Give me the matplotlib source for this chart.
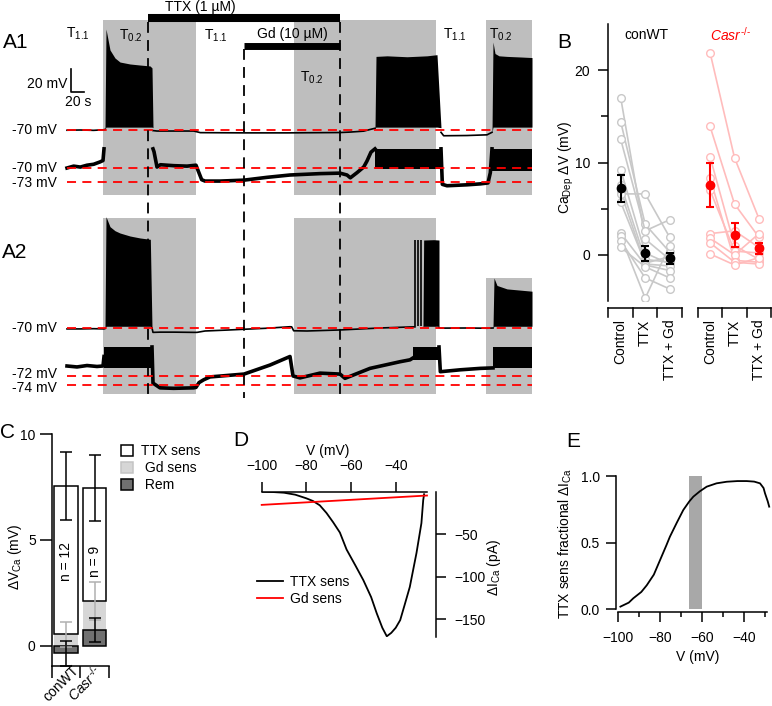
import numpy as np
import matplotlib
matplotlib.use("Agg")
import matplotlib.pyplot as plt
from matplotlib.patches import Rectangle, Patch
from matplotlib.lines import Line2D
from matplotlib.transforms import blended_transform_factory

nan = np.nan

# ---------------- data ----------------
# Panel A: protocol (time in s)
grey_periods = [(54, 194), (340, 554), (628, 698)]
ttx_period = (122, 410)
gd_period = (266, 410)
temp_labels = ["1.1", "0.2", "1.1", "0.2", "1.1", "0.2"]
temp_label_t = [16.5, 96, 223.5, 367.5, 582, 651]
temp_label_y = [34, 36, 36, 78, 35, 35]

# A1 full-scale trace (mV)
a1_t = [0, 20, 40, 55, 57, nan, 129, 135, 190, 200, 265, 330, 410, 425, 445, 455, 462,
        nan, 561, 565, 600, 630, 637.5]
a1_v = [-70.2, -70.0, -70.3, -69.8, -69.5, nan, -70.5, -70.9, -70.9, -72.3, -72.5, -72.5,
        -72.2, -71.8, -71.0, -69.5, -68.5, nan, -72.0, -75.0, -74.8, -74.2, -72.0]
a1_burst_t = [[57, 58.5, 64.5, 72, 79.5, 94.5, 109.5, 124.5, 127.5, 129],
              [462, 463.5, 480, 510, 540, 555, 561],
              [637.5, 639, 642, 648, 660, 680, 697.5]]
a1_burst_v = [[-69.5, 17.8, -0.4, -7.4, -10.9, -12.6, -13.5, -14.3, -16.0, -68.0],
              [-68.0, -6.0, -5.5, -6.3, -5.5, -4.5, -68.0],
              [-72.0, 6.5, -3.5, -5.5, -6.0, -6.5, -7.0]]
a1_trough = -67.5

# A1 high-gain trace (mV)
a1z_t = [0, 10, 20, 30, 40, 49.5, 54, 55.5, nan, 129, 130.5, 135, 140, 160, 180, 193.5,
         196.5, 202, 207, 230, 265.5, 300, 334.5, 380, 409.5, 420, 425, 435, 445, 450,
         456, 462, nan, 561, 563, 570, 600, 620, 631.5, 635, 637.5]
a1z_v = [-70.0, -69.6, -69.8, -69.4, -69.2, -68.7, -68.4, -65.9, nan, -65.9, -66.5, -69.8,
         -69.3, -69.5, -69.6, -69.4, -70.5, -72.5, -72.8, -72.8, -72.6, -72.0, -71.5, -71.2,
         -71.1, -71.5, -72.1, -71.0, -69.8, -68.5, -66.6, -65.9, nan, -65.9, -73.5, -73.8,
         -73.6, -73.4, -73.2, -71.0, -65.9]
a1z_blocks = [(462, 561), (637.5, 697.5)]
a1z_block_trough = [-70.3, -70.6]

# A2 full-scale trace (mV)
a2_t = [0, 20, 40, 55.5, 57, nan, 127.5, 129, 140, 160, 190, 195, 207, 240, 265.5, 300,
        334.5, 337, 340, 360, 409.5, 469.5, 514.5, 522, nan, 558, 560, 600, 630, 639]
a2_v = [-70.8, -70.8, -70.6, -70.8, -70.5, nan, -70.0, -73.8, -73.6, -73.6, -73.8, -73.8,
        -72.6, -71.8, -71.1, -70.2, -68.9, -69.0, -72.4, -72.6, -71.7, -70.0, -69.1, -69.0,
        nan, -69.5, -70.1, -70.0, -70.2, -70.0]
a2_burst_t = [[57, 58.5, 64.5, 72, 79.5, 94.5, 109.5, 125, 127.5],
              [534, 535, 550, 558],
              [639, 640.5, 645, 660, 697.5]]
a2_burst_v = [[-70.5, 26.8, 18.1, 14.6, 12.6, 10.0, 8.3, 7.1, -70.0],
              [-69.0, 6.5, 6.8, 6.5],
              [-70.0, -26.5, -33.0, -36.0, -38.0]]
a2_spike_t = [522, 526.5, 531]
a2_spike_peak = 6.5
a2_trough = -68.5

# A2 high-gain trace (mV)
a2z_t = [0, 15, 30, 45, 54, 55.5, nan, 127.5, 129, 139.5, 160, 190, 193.5, 198, 205, 214.5,
         265.5, 304.5, 334.5, 339, 349.5, 379.5, 409.5, 417, 454.5, 499.5, 514.5, 519, nan,
         558, 560, 590, 620, 639]
a2z_v = [-70.0, -70.2, -69.9, -70.1, -70.0, -68.0, nan, -66.0, -73.6, -74.6, -74.7, -74.6,
         -74.5, -73.5, -72.9, -72.3, -71.7, -69.8, -68.0, -72.1, -72.5, -71.5, -71.7, -72.6,
         -70.5, -69.1, -68.7, -68.3, nan, -66.0, -71.2, -70.8, -70.5, -70.4]
a2z_blocks = [(56, 127.5), (519, 558), (639, 697.5)]
a2z_block_trough = [-70.5, -68.7, -70.5]
zoom_clip = -65.9

# Panel B: Ca-dependent depolarisation (mV)
b_conditions = ["Control", "TTX", "TTX + Gd"]
wt_ctrl = [17.0, 14.4, 12.5, 9.2, 7.6, 6.8, 6.6, 5.7, 2.35, 2.0, 1.5, 0.8]
wt_ttx = [1.7, 3.3, 2.6, 0.2, -0.5, -1.0, 6.6, -0.9, -1.1, -4.7, -2.5, -1.3]
wt_gd = [-0.5, 0.3, 3.8, -1.0, -0.8, -1.2, 1.9, -0.2, -1.7, 1.0, -3.7, -2.5]
ko_ctrl = [21.9, 13.9, 10.6, 8.3, 7.0, 2.3, 1.8, 1.3, 0.1]
ko_ttx = [10.5, 5.5, 1.0, -0.6, 0.4, 2.6, 0.0, -0.8, -1.1]
ko_gd = [3.9, 1.9, -0.5, -0.8, 0.2, 0.8, 2.3, -1.0, -0.3]
wt_mean = [7.2, 0.15, -0.36]
wt_sem = [1.45, 0.85, 0.6]
ko_mean = [7.55, 2.13, 0.72]
ko_sem = [2.4, 1.27, 0.6]

# Panel C: stacked components (mV)
c_rem = [-0.36, 0.74]
c_gd = [0.54, 1.39]
c_ttx = [7.01, 5.32]
c_total_sem = [1.6, 1.55]
c_gd_sem = [0.58, 0.9]
c_rem_sem = [0.6, 0.56]
c_n = [12, 9]

# Panel D: I-V of sensitive currents
d_v = [-100, -95, -90, -85, -80, -77, -74, -71, -68, -65, -62, -58, -54.5, -51, -48.5, -46,
       -44, -42, -40, -38, -36, -33.7, -30.7, -28.5, -27.7, -27.3]
d_ttx = [0.0, -0.4, -1.2, -3.5, -7.8, -11, -16, -25, -36, -48, -68, -87, -104, -124, -143,
         -160, -170, -166, -160, -151, -133, -112, -72, -37, -10, -3]
d_gd_v = [-100, -26]
d_gd = [-15.5, -4.5]

# Panel E: fractional TTX-sensitive current
e_v = [-99, -95, -92.8, -89, -86.4, -83, -80, -77, -75.3, -72, -68.9, -66, -64.1, -61,
       -57.7, -53, -48.1, -43, -38.6, -35, -32.2, -30.5, -29.8, -28.5, -27.8]
e_frac = [0.02, 0.05, 0.083, 0.13, 0.18, 0.26, 0.37, 0.48, 0.545, 0.65, 0.745, 0.81, 0.845,
          0.885, 0.92, 0.945, 0.957, 0.962, 0.962, 0.958, 0.945, 0.91, 0.87, 0.81, 0.77]
e_band = (-66, -60)

# ---------------- style ----------------
plt.rcParams.update({
    "font.family": "Liberation Sans",
    "font.size": 10,
    "mathtext.fontset": "custom",
    "mathtext.rm": "Liberation Sans",
    "mathtext.it": "Liberation Sans:italic",
    "mathtext.default": "regular",
    "axes.linewidth": 1.1,
    "xtick.major.width": 1.1,
    "ytick.major.width": 1.1,
    "xtick.minor.width": 1.1,
    "ytick.minor.width": 1.1,
})

W, H = 772, 706
fig = plt.figure(figsize=(W / 100, H / 100), dpi=100)


def px_axes(x0, y0, x1, y1):
    return fig.add_axes([x0 / W, 1 - y1 / H, (x1 - x0) / W, (y1 - y0) / H])


def ftext(x, y, s, **kw):
    return fig.text(x / W, 1 - y / H, s, **kw)


GREY = "#bebebe"
KO_SUP = r"$\mathit{Casr}^{\text{-/-}}$"

# ---------------- panel A ----------------
S = 1.5  # s per pixel
axA = px_axes(0, 0, 545, 400)
axA.set_xlim(-67 * S, (545 - 67) * S)
axA.set_ylim(400, 0)
axA.axis("off")


def y_of(v, base, vref, gain):
    return base - gain * (np.asarray(v, float) - vref)


tr_a1 = (130, -70, 1.15)
tr_a1z = (168, -70, 4.67)
tr_a2 = (328, -70, 1.15)
tr_a2z = (375.5, -72, 4.75)
t_end = 697.5

# grey boxes: A1 rows 20-195 px, A2 rows 218-394 px (last A2 box starts lower)
box_tops = [[20, 20, 20], [218, 218, 278]]
box_bottoms = [195, 394]
for tops, ybot in zip(box_tops, box_bottoms):
    for (t0, t1), ytop in zip(grey_periods, tops):
        axA.add_patch(Rectangle((t0, ytop), t1 - t0, ybot - ytop, fc=GREY, ec="none", zorder=0))

# drug bars and dashed lines
axA.plot(ttx_period, [18, 18], color="k", lw=5.8, solid_capstyle="butt")
axA.plot(gd_period, [45.5, 45.5], color="k", lw=5.0, solid_capstyle="butt")
axA.text(199.5, 7, "TTX (1 µM)", ha="center", va="center")
axA.text(337.5, 34, "Gd (10 µM)", ha="center", va="center")
for t, ytop in [(ttx_period[0], 22), (gd_period[0], 49), (ttx_period[1], 22)]:
    axA.plot([t, t], [ytop, 398], color="k", lw=1.3, ls=(0, (6, 4)), zorder=4)

for s, t, y in zip(temp_labels, temp_label_t, temp_label_y):
    axA.text(t, y, "T$_{" + s + "}$", ha="center", va="center", fontsize=10)

# traces
for bt, bv in zip(a1_burst_t, a1_burst_v):
    lo = np.minimum(a1_trough, bv)
    axA.fill_between(bt, y_of(lo, *tr_a1), y_of(bv, *tr_a1), color="k", lw=0, zorder=2)
axA.plot(a1_t, y_of(a1_v, *tr_a1), color="k", lw=1.2, zorder=2)

for (t0, t1), tr in zip(a1z_blocks, a1z_block_trough):
    axA.fill_between([t0, t1], y_of([tr, tr], *tr_a1z), y_of([zoom_clip] * 2, *tr_a1z),
                     color="k", lw=0, zorder=2)
axA.plot(a1z_t, y_of(a1z_v, *tr_a1z), color="k", lw=2.6, zorder=2)

for bt, bv in zip(a2_burst_t, a2_burst_v):
    lo = np.minimum(a2_trough, bv)
    axA.fill_between(bt, y_of(lo, *tr_a2), y_of(bv, *tr_a2), color="k", lw=0, zorder=2)
axA.vlines(a2_spike_t, y_of(a2_trough, *tr_a2), y_of(a2_spike_peak, *tr_a2), color="k", lw=1.2)
axA.plot(a2_t, y_of(a2_v, *tr_a2), color="k", lw=1.2, zorder=2)

for (t0, t1), tr in zip(a2z_blocks, a2z_block_trough):
    axA.fill_between([t0, t1], y_of([tr, tr], *tr_a2z), y_of([zoom_clip] * 2, *tr_a2z),
                     color="k", lw=0, zorder=2)
axA.plot(a2z_t, y_of(a2z_v, *tr_a2z), color="k", lw=2.6, zorder=2)

# reference lines and labels
refs = [(tr_a1, [-70], [0]), (tr_a1z, [-70, -73], [0, 1]),
        (tr_a2, [-70], [0]), (tr_a2z, [-72, -74], [-1, 3])]
for tr, levels, offs in refs:
    for lv, off in zip(levels, offs):
        y = float(y_of(lv, *tr))
        axA.plot([0, t_end], [y, y], color="red", lw=1.3, ls=(0, (5, 3.5)), zorder=3)
        axA.text(-15, y + off, f"{lv} mV", ha="right", va="center")

# scale bar 20 mV / 20 s
sb_t, sb_y = 6, 92
axA.plot([sb_t, sb_t, sb_t + 20], [sb_y - 20 * 1.15, sb_y, sb_y], color="k", lw=1.2)
axA.text(0, 84, "20 mV", ha="right", va="center")
axA.text(16.5, 102, "20 s", ha="center", va="center")

ftext(3, 43, "A1", fontsize=15, va="center")
ftext(2, 253, "A2", fontsize=15, va="center")

# ---------------- panel B ----------------
axB = px_axes(608, 24, 772, 301)
axB.set_xlim(-0.52, 6.18)
axB.set_ylim(-5, 25)
for sp in ["top", "right", "bottom"]:
    axB.spines[sp].set_visible(False)
axB.set_xticks([])
axB.set_yticks([0, 10, 20])
axB.set_yticks([5, 15], minor=True)
axB.tick_params(axis="y", which="major", length=7, pad=6)
axB.tick_params(axis="y", which="minor", length=5)

wt_x = np.array([0, 1, 2])
ko_x = wt_x + 3.65
for row in zip(wt_ctrl, wt_ttx, wt_gd):
    axB.plot(wt_x, row, "-o", color="#c8c8c8", mfc="white", ms=5.5, lw=1.2, zorder=2)
for row in zip(ko_ctrl, ko_ttx, ko_gd):
    axB.plot(ko_x, row, "-o", color="#ffbcbc", mfc="white", ms=5.5, lw=1.2, zorder=2)
axB.errorbar(wt_x, wt_mean, yerr=wt_sem, fmt="o", color="k", ms=6, capsize=2.8,
             elinewidth=1.5, capthick=1.5, zorder=5)
axB.errorbar(ko_x, ko_mean, yerr=ko_sem, fmt="o", color="red", ms=6, capsize=2.8,
             elinewidth=1.5, capthick=1.5, zorder=5)

trB = blended_transform_factory(axB.transData, axB.transAxes)
for xs in [wt_x, ko_x]:
    edges = np.append(xs - 0.5, xs[-1] + 0.5)
    axB.plot([edges[0], edges[-1]], [-0.024, -0.024], color="k", lw=1.1,
             transform=trB, clip_on=False)
    for e in edges:
        axB.plot([e, e], [-0.024, -0.057], color="k", lw=1.1, transform=trB, clip_on=False)
    for x, lab in zip(xs, b_conditions):
        axB.text(x, -0.066, lab, rotation=90, ha="center", va="top", transform=trB)

ftext(646.7, 35, "conWT", ha="center", va="center")
ftext(730, 35, KO_SUP, ha="center", va="center", color="red")
ftext(566, 167, r"Ca$_{Dep}$ ΔV (mV)", rotation=90, ha="center", va="center")
ftext(557, 43, "B", fontsize=15, va="center")

# ---------------- panel C ----------------
axC = px_axes(51.7, 434, 108.9, 665.7)
axC.set_xlim(-0.5, 1.5)
axC.set_ylim(-0.945, 10)
axC.spines["top"].set_visible(False)
axC.spines["right"].set_visible(False)
axC.set_xticks([-0.5, 0.5, 1.5])
axC.set_xticklabels([])
axC.set_yticks([0, 5, 10])
axC.tick_params(length=8.5, pad=3)

cx = np.arange(2)
rem = np.array(c_rem)
gd_bottom = np.maximum(rem, 0)
gd_top = gd_bottom + np.array(c_gd)
total = gd_top + np.array(c_ttx)
bw = 0.82
axC.bar(cx, c_gd, bw, bottom=gd_bottom, color="#d6d6d6", ec="none", zorder=2)
axC.bar(cx, c_ttx, bw, bottom=gd_top, color="white", ec="k", lw=1.1, zorder=2)
axC.bar(cx, c_rem, bw, color="#707070", ec="k", lw=1.1, zorder=2)
axC.errorbar(cx, total, yerr=c_total_sem, fmt="none", ecolor="k", elinewidth=1.1,
             capsize=4.5, capthick=1.1, zorder=4)
axC.errorbar(cx, gd_top, yerr=c_gd_sem, fmt="none", ecolor="#b0b0b0", elinewidth=1.1,
             capsize=4.5, capthick=1.1, zorder=4)
axC.errorbar(cx, rem, yerr=c_rem_sem, fmt="none", ecolor="k", elinewidth=1.1,
             capsize=4.5, capthick=1.1, zorder=4)
for x, n in zip(cx, c_n):
    axC.text(x, 4.0, f"n = {n}", rotation=90, ha="center", va="center", zorder=5)

trC = blended_transform_factory(axC.transData, axC.transAxes)
axC.text(0.2, 0.012, "conWT", rotation=45, ha="right", va="top",
         rotation_mode="anchor", transform=trC)
axC.text(0.95, 0.012, KO_SUP, rotation=45, ha="right", va="top",
         rotation_mode="anchor", transform=trC)

c_handles = [Patch(fc="white", ec="k", lw=1.1), Patch(fc="#d6d6d6", ec="#c4c4c4", lw=1.1),
             Patch(fc="#707070", ec="k", lw=1.1)]
fig.legend(c_handles, ["TTX sens", " Gd sens", " Rem"], loc="upper left",
           bbox_to_anchor=(121 / W, 1 - 444 / H), frameon=False, borderpad=0,
           borderaxespad=0, handlelength=0.85, handleheight=0.85, handletextpad=0.6,
           labelspacing=0.22, fontsize=10)
ftext(15, 557, r"ΔV$_{Ca}$ (mV)", rotation=90, ha="center", va="center")
ftext(0, 433, "C", fontsize=15, va="center")

# ---------------- panel D ----------------
axD = px_axes(261.7, 491.7, 427, 636.7)
axD.set_xlim(-100, -26)
axD.set_ylim(-170.5, 0)
axD.spines["left"].set_visible(False)
axD.spines["bottom"].set_visible(False)
axD.spines["right"].set_position(("outward", 6.5))
axD.xaxis.tick_top()
axD.yaxis.tick_right()
axD.set_xticks([-100, -80, -60, -40])
axD.set_yticks([-150, -100, -50])
axD.tick_params(length=7.5, pad=6)
axD.plot(d_v, d_ttx, color="k", lw=1.3, label="TTX sens")
axD.plot(d_gd_v, d_gd, color="red", lw=1.3, label="Gd sens", clip_on=False)
fig.legend(handles=[Line2D([], [], color="k", lw=1.3), Line2D([], [], color="red", lw=1.3)],
           labels=["TTX sens", "Gd sens"], loc="upper left",
           bbox_to_anchor=(257 / W, 1 - 575 / H), frameon=False, borderpad=0,
           borderaxespad=0, handlelength=1.9, handletextpad=0.5, labelspacing=0.2,
           fontsize=10)
ftext(328, 451, "V (mV)", ha="center", va="center")
ftext(494, 567, r"ΔI$_{Ca}$ (pA)", rotation=90, ha="center", va="center")
ftext(233, 440, "D", fontsize=15, va="center")

# ---------------- panel E ----------------
axE = px_axes(618.3, 476, 767, 609.3)
axE.set_xlim(-100, -28.85)
axE.set_ylim(0, 1)
axE.spines["top"].set_visible(False)
axE.spines["right"].set_visible(False)
axE.spines["left"].set_position(("outward", 1.9))
axE.spines["bottom"].set_position(("outward", 1.7))
axE.set_xticks([-100, -80, -60, -40])
axE.set_xticks([-90, -70, -50, -30], minor=True)
axE.set_yticks([0, 0.5, 1.0])
axE.set_yticklabels(["0.0", "0.5", "1.0"])
axE.tick_params(which="major", length=7.2)
axE.tick_params(axis="x", which="major", pad=7)
axE.tick_params(axis="y", pad=4)
axE.tick_params(which="minor", length=3.6)
axE.fill_between(list(e_band), 0, 1, color="#a8a8a8", lw=0)
axE.plot(e_v, e_frac, color="k", lw=1.3, clip_on=False)
ftext(698, 657, "V (mV)", ha="center", va="center")
ftext(565, 543, r"TTX sens fractional ΔI$_{Ca}$", rotation=90, ha="center", va="center")
ftext(566, 442, "E", fontsize=15, va="center")

fig.savefig("out.png", dpi=100)
